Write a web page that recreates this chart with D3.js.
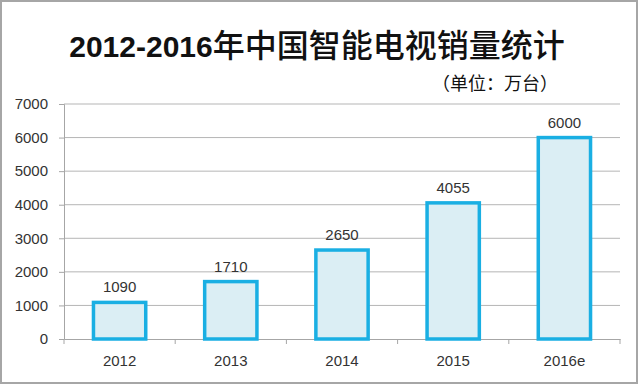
<!DOCTYPE html>
<html lang="zh">
<head>
<meta charset="UTF-8">
<title>2012-2016年中国智能电视销量统计</title>
<script src="https://d3js.org/d3.v7.min.js"></script>
<style>
    body { margin: 0; background: #fff; }
    svg { display: block; }
    .tick text { font-family: "Liberation Sans", "DejaVu Sans", sans-serif; font-size: 15px; fill: #333; }
</style>
</head>
<body>
<script>
// data
const years = ["2012", "2013", "2014", "2015", "2016e"];
const sales = [1090, 1710, 2650, 4055, 6000];
const yTicks = [0, 1000, 2000, 3000, 4000, 5000, 6000, 7000];

const W = 640, H = 385;
const margin = {top: 104, right: 20, bottom: 46, left: 64};
const width = W - margin.left - margin.right;
const height = H - margin.top - margin.bottom;

const svg = d3.select("body").append("svg")
    .attr("width", W)
    .attr("height", H);

// outer frame
svg.append("rect")
    .attr("x", 1).attr("y", 1)
    .attr("width", W - 4).attr("height", H - 3)
    .attr("fill", "#fff")
    .attr("stroke", "#a6a6a6")
    .attr("stroke-width", 2);

// title
const title = svg.append("text")
    .attr("x", 317).attr("y", 57)
    .attr("text-anchor", "middle")
    .attr("fill", "#111");
title.append("tspan")
    .attr("font-family", "'Liberation Sans', sans-serif")
    .attr("font-weight", "bold")
    .attr("font-size", 30)
    .text("2012-2016");
title.append("tspan")
    .attr("font-family", "'Noto Sans CJK SC', sans-serif")
    .attr("font-weight", 500)
    .attr("font-size", 32)
    .text("年中国智能电视销量统计");

svg.append("text")
    .attr("x", 558).attr("y", 90)
    .attr("text-anchor", "end")
    .attr("font-size", 18)
    .attr("font-family", "'Noto Sans CJK SC', sans-serif")
    .attr("fill", "#111")
    .text("（单位：万台）");

const g = svg.append("g")
    .attr("transform", `translate(${margin.left},${margin.top})`);

const x = d3.scaleBand().domain(years).range([0, width]).paddingInner(0.53).paddingOuter(0.265);
const y = d3.scaleLinear().domain([0, 7000]).range([height, 0]);

// gridlines
g.append("g")
    .selectAll("line")
    .data(yTicks.slice(1))
    .join("line")
    .attr("x1", 0).attr("x2", width)
    .attr("y1", d => y(d)).attr("y2", d => y(d))
    .attr("stroke", "#b5b5b5");

// y axis
const yAxis = g.append("g")
    .call(d3.axisLeft(y).tickValues(yTicks).tickSize(5).tickPadding(11).tickFormat(d3.format("d")));
yAxis.selectAll("line, path").attr("stroke", "#a6a6a6");

// x axis with ticks at band edges
const xAxis = g.append("g")
    .attr("transform", `translate(0,${height})`)
    .call(d3.axisBottom(x).tickSize(0).tickPadding(16));
xAxis.select("path").attr("stroke", "#a6a6a6");
xAxis.selectAll(".edge")
    .data(d3.range(years.length + 1))
    .join("line")
    .attr("class", "edge")
    .attr("x1", i => i * width / years.length)
    .attr("x2", i => i * width / years.length)
    .attr("y1", 0).attr("y2", 5)
    .attr("stroke", "#a6a6a6");

// bars
g.selectAll(".bar")
    .data(sales)
    .join("rect")
    .attr("class", "bar")
    .attr("x", (d, i) => x(years[i]))
    .attr("y", d => y(d))
    .attr("width", x.bandwidth())
    .attr("height", d => height - y(d))
    .attr("fill", "#dbeef4")
    .attr("stroke", "#1aafe3")
    .attr("stroke-width", 3.5);

// value labels
g.selectAll(".lbl")
    .data(sales)
    .join("text")
    .attr("class", "lbl")
    .attr("x", (d, i) => x(years[i]) + x.bandwidth() / 2)
    .attr("y", d => y(d) - 10)
    .attr("text-anchor", "middle")
    .attr("font-family", "'Liberation Sans', sans-serif")
    .attr("font-size", 15)
    .attr("fill", "#333")
    .text(d => d);
</script>
</body>
</html>
